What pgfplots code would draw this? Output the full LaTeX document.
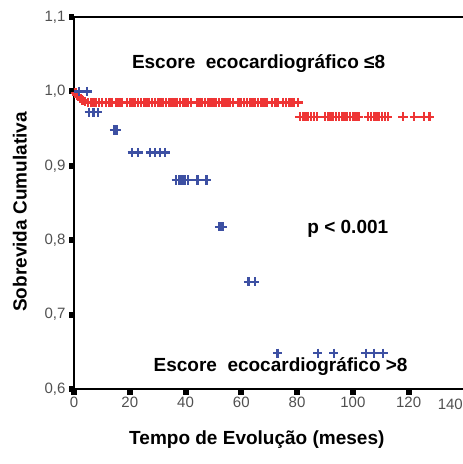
\documentclass[border=0pt]{standalone}
\usepackage{fontspec}
\setmainfont{Liberation Sans}
\usepackage{pgfplots}
\pgfplotsset{compat=1.18}
\definecolor{kmred}{HTML}{EE3535}
\definecolor{kmblue}{HTML}{3D50A3}
\definecolor{tickgray}{HTML}{505050}
\newcommand{\bigbf}{\fontsize{19bp}{22bp}\selectfont\bfseries}
\begin{document}
\begin{tikzpicture}
\begin{axis}[
  scale only axis, width=389bp, height=372bp,
  xmin=0, xmax=139.5, ymin=0.6, ymax=1.1,
  axis line style={draw=none},
  xtick={0,20,...,120}, ytick={0.6,0.7,...,1.1},
  xtick pos=bottom, ytick pos=left,
  tick align=outside, major tick length=5bp,
  major tick style={draw=none},
  /pgf/number format/.cd, use comma, fixed, fixed zerofill, precision=1, assume math mode=true,
  /pgfplots/.cd,
  xticklabel style={/pgf/number format/precision=0, /pgf/number format/fixed zerofill=false},
  ticklabel style={font=\fontsize{15bp}{17bp}\selectfont, text=tickgray},
  xlabel={Tempo de Evolução (meses)},
  ylabel={Sobrevida Cumulativa},
  label style={font=\bigbf},
  xlabel style={at={(axis description cs:0.47,-0.137)}, anchor=center},
  ylabel style={at={(axis description cs:-0.139,0.476)}, anchor=center, rotate=0},
  clip=false,
]
% frame: left, bottom and top only
\draw[line width=2bp, black] (rel axis cs:1,1) -- (rel axis cs:0,1) -- (rel axis cs:0,0) -- (rel axis cs:1,0);
% square tick marks
\pgfplotsinvokeforeach{0,20,40,60,80,100,120}{
  \fill[black] (axis cs:#1,0.6) ++(-3bp,0bp) rectangle ++(6bp,-6bp);
}
\pgfplotsinvokeforeach{0.6,0.7,0.8,0.9,1.0,1.1}{
  \fill[black] (axis cs:0,#1) ++(0bp,-3bp) rectangle ++(-5bp,6bp);
}
% escore <= 8
\addplot[only marks, mark=+, mark size=4.6bp, kmred, line width=2.3bp] coordinates {
(0.5,0.998) (1,0.995) (1.6,0.993) (2.3,0.990) (3.1,0.988) (4,0.986)
(5,0.985) (6,0.985) (7,0.985) (8,0.985) (9,0.985) (10,0.985) (11.5,0.985)
(12.5,0.985) (13.5,0.985) (15,0.985) (16,0.985) (17,0.985) (19,0.985)
(20,0.985) (21,0.985) (22,0.985) (23,0.985) (24,0.985) (25,0.985) (26,0.985)
(27,0.985) (28,0.985) (29,0.985) (30,0.985) (31,0.985) (32,0.985) (33,0.985)
(34,0.985) (35,0.985) (36,0.985) (37,0.985) (38,0.985) (39,0.985) (40,0.985)
(41,0.985) (42,0.985) (44,0.985) (45,0.985) (46,0.985) (47,0.985) (48,0.985)
(49,0.985) (50,0.985) (51,0.985) (52,0.985) (53,0.985) (54,0.985) (55,0.985)
(56,0.985) (57,0.985) (59,0.985) (60,0.985) (61,0.985) (62,0.985) (63,0.985)
(64,0.985) (65,0.985) (66,0.985) (67,0.985) (68,0.985) (69,0.985) (71,0.985)
(72,0.985) (73,0.985) (75,0.985) (76,0.985) (77,0.985) (78,0.985) (79,0.985)
(80.3,0.985)
(81,0.966) (82,0.966) (83,0.966) (84,0.966) (85,0.966) (86,0.966) (87.2,0.966)
(90,0.966) (91,0.966) (92,0.966) (93,0.966) (94,0.966) (95,0.966) (96,0.966)
(97,0.966) (98,0.966) (99,0.966) (100,0.966) (101,0.966) (102,0.966)
(105.5,0.966) (106.5,0.966) (107.5,0.966) (108.5,0.966) (109.5,0.966)
(110.5,0.966) (111.5,0.966) (112.5,0.966)
(118,0.966) (122,0.966) (125.5,0.966) (127.5,0.966)
};
% escore > 8
\addplot[only marks, mark=+, mark size=4.6bp, kmblue, line width=2.3bp] coordinates {
(1.8,1.0) (4.7,1.0)
(5.5,0.972) (7,0.972) (8.5,0.972)
(14.5,0.948) (15.2,0.948)
(20.9,0.918) (23,0.918) (27.3,0.918) (29.1,0.918) (30.9,0.918) (32.7,0.918)
(36.7,0.881) (37.8,0.881) (38.9,0.881) (39.9,0.881) (41,0.881) (44.3,0.881) (47.5,0.881)
(52.2,0.818) (53.2,0.818)
(62.6,0.744) (64.8,0.744)
(73,0.648) (87.4,0.648) (93.2,0.648) (104.7,0.648) (107.6,0.648) (110.8,0.648)
};
\node[font=\bigbf] at (axis cs:66.2,1.038) {Escore\hspace{0.55em}ecocardiográfico ≤8};
\node[font=\bigbf] at (axis cs:98.2,0.815) {p < 0.001};
\node[font=\bigbf] at (axis cs:74.1,0.630) {Escore\hspace{0.55em}ecocardiográfico >8};
\node[anchor=north east, inner sep=0pt, font=\fontsize{15bp}{17bp}\selectfont, text=tickgray]
  at ([yshift=-10bp]rel axis cs:1,0) {140};
\end{axis}
\pgfresetboundingbox
\path[use as bounding box] ([xshift=-74bp,yshift=-75bp]current axis.south west)
  rectangle ([yshift=17bp]current axis.north east);
\end{tikzpicture}
\end{document}
